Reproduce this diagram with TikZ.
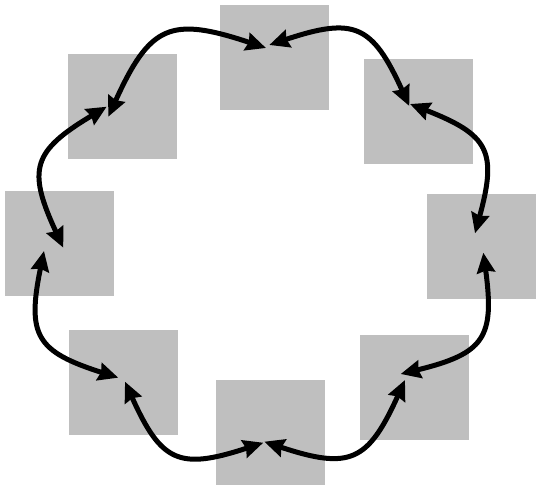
\documentclass[tikz,border=0pt]{standalone}
\usepackage{tikz}
\usetikzlibrary{arrows.meta}

\begin{document}
\begin{tikzpicture}[
    x=1pt, y=-1pt,
    every node/.style={rectangle, fill=gray!50, minimum width=109pt, minimum height=105pt, inner sep=0pt},
    link/.style={{Stealth[length=20pt,width=18pt,inset=2pt]}-{Stealth[length=20pt,width=18pt,inset=2pt]}, line width=5pt, bend left=42, looseness=1.5}
]
\useasboundingbox (0,0) rectangle (536,486);
% boxes, clockwise from the top
\node (top) at (274.6,57.3) {};
\node (tr) at (418.7,111.3) {};
\node (rt) at (481.8,246.3) {};
\node (br) at (414.3,387.3) {};
\node (bot) at (270.4,432.3) {};
\node (bl) at (123.6,382.3) {};
\node (lt) at (59.5,243.3) {};
\node (tl) at (122.6,106.3) {};
% links between neighbours
\draw[link] ([shift={(-14.3,10.4)}]tl.center) to ([shift={(-8.6,-9.3)}]top.center);
\draw[link] ([shift={(-5.3,-12.3)}]top.center) to ([shift={(-9.4,-5.3)}]tr.center);
\draw[link] ([shift={(-8.7,-7.3)}]tr.center) to ([shift={(-6.8,-13)}]rt.center);
\draw[link] ([shift={(1.5,6.4)}]rt.center) to ([shift={(-13.6,-13.3)}]br.center);
\draw[link] ([shift={(-9.3,-7.3)}]br.center) to ([shift={(-6.1,9.4)}]bot.center);
\draw[link] ([shift={(-7.1,10.4)}]bot.center) to ([shift={(1.4,-0.6)}]bl.center);
\draw[link] ([shift={(-5.3,-4.6)}]bl.center) to ([shift={(-15.5,7.7)}]lt.center);
\draw[link] ([shift={(3.8,4.4)}]lt.center) to ([shift={(-15.9,0.4)}]tl.center);
\end{tikzpicture}
\end{document}
